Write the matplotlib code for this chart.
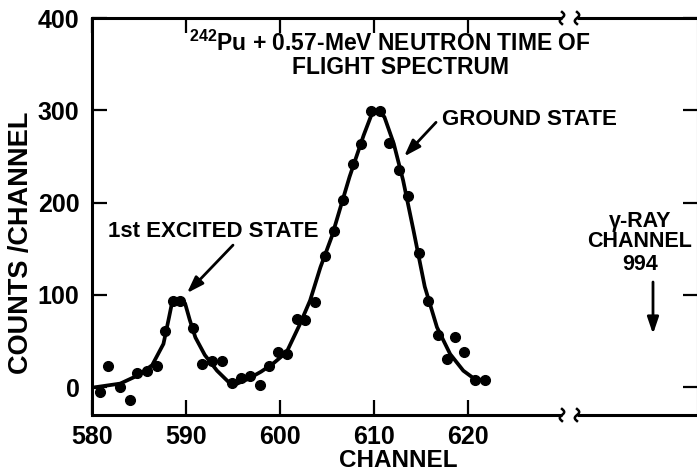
import matplotlib
matplotlib.use("Agg")
import matplotlib.pyplot as plt
import numpy as np

plt.rcParams['font.family'] = ['Liberation Sans', 'DejaVu Sans']
plt.rcParams['font.weight'] = 'bold'
plt.rcParams['mathtext.fontset'] = 'custom'
plt.rcParams['mathtext.rm'] = 'Liberation Sans:bold'
plt.rcParams['mathtext.default'] = 'rm'

# ---------------- data ----------------
channels = [580.85, 581.7, 583.0, 584.0, 584.8, 585.8, 586.9, 587.8, 588.6, 589.4,
            590.7, 591.7, 592.8, 593.8, 594.9, 595.9, 596.8, 597.9, 598.8, 599.8,
            600.7, 601.8, 602.7, 603.7, 604.8, 605.7, 606.7, 607.8, 608.6, 609.7,
            610.6, 611.6, 612.7, 613.6, 614.8, 615.7, 616.8, 617.8, 618.6, 619.6,
            620.7, 621.8]
counts = [-5, 23, 0, -14, 15, 18, 23, 61, 94, 94,
          64, 25, 29, 28, 5, 10, 12, 3, 23, 38,
          36, 74, 73, 92, 142, 169, 203, 242, 263, 299,
          299, 265, 235, 207, 146, 94, 57, 31, 55, 38,
          8, 8]

fit_channel = [580.3, 583.0, 584.9, 586.4, 587.6, 588.2, 588.5, 588.8, 589.4, 589.9,
               590.4, 591.0, 592.0, 593.3, 594.7, 595.0, 596.6, 598.0, 599.3, 600.7,
               602.1, 603.2, 604.3, 605.5, 607.4, 608.9, 609.8, 610.2, 611.1, 612.1,
               613.1, 614.2, 615.4, 616.7, 618.1, 619.5, 620.7, 621.5]
fit_counts = [0, 4, 13, 24, 47, 76, 91, 95, 95, 91,
              73, 54, 35, 18, 4, 2, 9, 17, 26, 38,
              68, 94, 130, 163, 228, 273, 297, 300, 293, 264,
              224, 170, 109, 65, 36, 18, 9, 8]

xticks = [580, 590, 600, 610, 620]
xtick_labels = ['580', '590', '600', '610', '620']
yticks = [0, 100, 200, 300, 400]
ytick_labels = ['0', '100', '200', '300', '400']

title_line1 = r'$^{242}$Pu + 0.57-MeV NEUTRON TIME OF'
title_line2 = 'FLIGHT SPECTRUM'
x_label = 'CHANNEL'
y_label = 'COUNTS /CHANNEL'
excited_label = '1st EXCITED STATE'
ground_label = 'GROUND STATE'
gamma_lines = ['\u03b3-RAY', 'CHANNEL', '994']
excited_arrow = ((590.1, 102), (595.0, 154))   # (tip, tail)
ground_arrow = ((613.2, 250), (616.6, 287))

# ---------------- layout ----------------
W, H = 697, 472
fig = plt.figure(figsize=(W / 100, H / 100), dpi=100)
L, R, T, B = 92, 698, 18, 415
ax = fig.add_axes([L / W, 1 - B / H, (R - L) / W, (B - T) / H])
ax.set_xlim(580, 580 + (R - L) / 9.4)
ax.set_ylim(-30, 400)

def fx(px):
    return px / W

def fy(py):
    return 1 - py / H

ax.plot(fit_channel, fit_counts, color='black', lw=2.7,
        solid_joinstyle='round', solid_capstyle='round', zorder=3)
ax.plot(channels, counts, 'o', color='black', ms=7, mec='black', zorder=4)

# spines
for s in ['left', 'right']:
    ax.spines[s].set_linewidth(2.2)
for s in ['top', 'bottom']:
    ax.spines[s].set_visible(False)

br1 = (562 - L) / (R - L)
br2 = (577 - L) / (R - L)
for yy in [0, 1]:
    ax.plot([0, br1], [yy, yy], transform=ax.transAxes, color='black', lw=2.2,
            clip_on=False, solid_capstyle='butt')
    ax.plot([br2, 1], [yy, yy], transform=ax.transAxes, color='black', lw=2.2,
            clip_on=False, solid_capstyle='butt')
    t = np.linspace(-1, 1, 30)
    for bx in [br1, br2]:
        sx = bx + (2.2 * np.sin(np.pi * t)) / (R - L)
        sy = yy + (6 * t) / (B - T)
        ax.plot(sx, sy, transform=ax.transAxes, color='black', lw=1.8, clip_on=False)

# ticks
ax.set_xticks(xticks)
ax.set_xticklabels(xtick_labels)
ax.set_yticks(yticks)
ax.set_yticklabels(ytick_labels)
ax.tick_params(axis='x', direction='in', length=11, width=1.6, top=True,
               labelsize=18, pad=7)
ax.tick_params(axis='y', direction='in', length=11, width=1.6, right=True,
               labelsize=18, pad=9)

fig.text(fx(398), fy(467), x_label, ha='center', va='baseline', fontsize=17.5,
         fontweight='bold')
fig.text(fx(21), fy(243), y_label, ha='center', va='center', rotation=90,
         fontsize=19.5, fontweight='bold')

# title
fig.text(fx(390), fy(51), title_line1, ha='center', va='baseline', fontsize=16.5,
         fontweight='bold')
fig.text(fx(400), fy(74), title_line2, ha='center', va='baseline', fontsize=16.5,
         fontweight='bold')

# annotations
fig.text(fx(108), fy(237), excited_label, ha='left', va='baseline', fontsize=16,
         fontweight='bold')
fig.text(fx(442), fy(125), ground_label, ha='left', va='baseline', fontsize=16,
         fontweight='bold')

aprops = dict(arrowstyle='-|>,head_length=0.5,head_width=0.17', lw=2,
              color='black', shrinkA=0, shrinkB=0, mutation_scale=20)
ax.annotate('', xy=excited_arrow[0], xytext=excited_arrow[1], arrowprops=aprops)
ax.annotate('', xy=ground_arrow[0], xytext=ground_arrow[1], arrowprops=aprops)

for txt, yb in zip(gamma_lines, [227, 247, 270]):
    fig.text(fx(640), fy(yb), txt, ha='center', va='baseline', fontsize=15.5,
             fontweight='bold')
ax.annotate('', xy=(653, H - 334), xytext=(653, H - 282), xycoords='figure pixels',
            textcoords='figure pixels', arrowprops=aprops)

fig.savefig('out.png', dpi=100)
